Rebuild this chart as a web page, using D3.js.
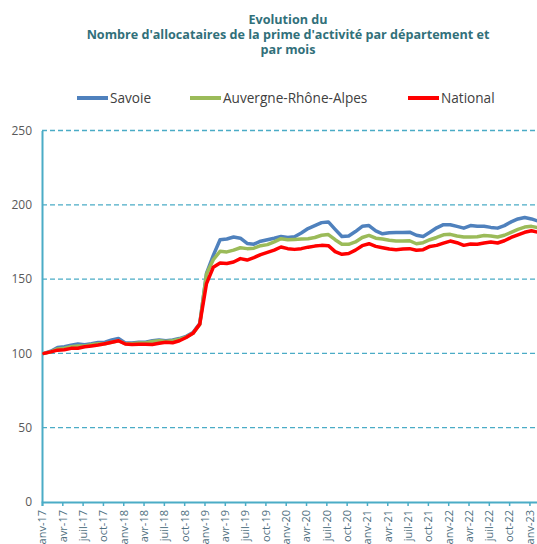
<!DOCTYPE html>
<html>
<head>
<meta charset="utf-8">
<script src="https://cdnjs.cloudflare.com/ajax/libs/d3/7.8.5/d3.min.js"></script>
<style>
  html, body { margin: 0; padding: 0; background: #fff; overflow: hidden; }
  svg { display: block; }
</style>
</head>
<body>
<svg id="chart" width="537" height="544"></svg>
<script>
// month labels, janv-17 .. févr-23 (one point per month)
var moisNoms = ['janv', 'févr', 'mars', 'avr', 'mai', 'juin', 'juil', 'août', 'sept', 'oct', 'nov', 'déc']
var annees = ['17', '18', '19', '20', '21', '22', '23']

var series = ['Savoie', 'Auvergne-Rhône-Alpes', 'National']
var couleurs = ['#4F81BD', '#9BBB59', '#FF0000']

var savoie = [
	100, 101.5, 104, 104.5, 105.5, 106.3, 105.8, 106.5, 107.4, 107.5, 109, 110,
	107, 107, 107.5, 107.5, 108.5, 109, 108.5, 109, 110, 111.5, 114, 120,
	153.8, 166, 176.5, 177, 178.3, 177.5, 174, 173.5, 175.5, 176.5, 177.5, 178.7,
	178, 178.5, 181, 184, 186, 188, 188.5, 183.5, 178.7, 179, 182, 185.5,
	186, 182.5, 180.5, 181.2, 181.4, 181.4, 181.6, 179.5, 178.7, 181.5, 184.5, 186.6,
	186.6, 185.5, 184.3, 186, 185.5, 185.5, 184.8, 184.3, 186, 188.5, 190.5, 191.5,
	190.5, 189
]
var ara = [
	100, 101, 103, 103.5, 104.5, 105, 105, 105.8, 106.5, 106.5, 107.5, 108.5,
	106.5, 106.5, 107, 107, 108, 108.5, 108, 108.5, 109.5, 111, 113.5, 119.5,
	153.5, 163, 168.7, 168.3, 169.5, 171.1, 170.5, 170.8, 172.5, 173.2, 175, 177.2,
	176.5, 176.7, 177, 177.2, 178, 179.5, 180, 176.5, 173.5, 173.4, 175, 178,
	179.4, 177.5, 177, 176.2, 175.6, 175.6, 175.8, 173.8, 174.5, 176.5, 178, 179.8,
	180.1, 179, 178.3, 178.3, 178.5, 179.4, 179, 178.3, 179.5, 181.5, 183.5, 185,
	185.5, 184.6
]
var national = [
	100, 101, 102.2, 102.5, 103.4, 103.5, 104.5, 105, 105.6, 106.5, 107.5, 108.5,
	106.3, 106, 106.2, 106.2, 106, 106.8, 107.5, 107.2, 108.5, 110.7, 113.5, 119.7,
	147, 158, 160.8, 160.5, 161.5, 163.8, 162.8, 164.5, 166.5, 168, 169.5, 171.6,
	170.5, 170, 170.5, 171.5, 172.2, 172.7, 172.5, 168.5, 166.7, 167.2, 169.5, 172.5,
	173.8, 172, 171.1, 170.2, 169.8, 170.3, 170.5, 169.4, 169.8, 172, 172.7, 174.2,
	175.6, 174.5, 172.7, 173.6, 173.4, 174.3, 175, 174.3, 175.8, 178, 179.8, 181.5,
	182.5, 181.5
]
var yTicks = [0, 50, 100, 150, 200, 250]

var titre = ['Evolution du', "Nombre d'allocataires de la prime d'activité par département et", 'par mois']

var valeurs = [savoie, ara, national]
var nMois = savoie.length

var mois = []
for (var i = 0; i < nMois; i++) {
	mois.push(moisNoms[i % 12] + '-' + annees[Math.floor(i / 12)])
}

var svg = d3.select('#chart')
var bleu = '#4BACC6'

var x = d3.scaleLinear().domain([0, 74]).range([42, 42 + 74 * 6.77])
var y = d3.scaleLinear().domain([0, 250]).range([502, 130.5])

// title
svg.append('g').selectAll('text')
	.data(titre)
	.enter().append('text')
		.attr('x', 288)
		.attr('y', function(d, i) { return 24 + i * 15 })
		.attr('text-anchor', 'middle')
		.attr('font-family', 'Open Sans, sans-serif')
		.attr('font-weight', 'bold')
		.attr('font-size', '12.6px')
		.attr('fill', '#31707A')
		.text(function(d) { return d })

// legend
var legX = [77, 190, 408]
var leg = svg.append('g').selectAll('g')
	.data(series)
	.enter().append('g')
		.attr('transform', function(d, i) { return 'translate(' + legX[i] + ',98)' })
leg.append('line')
	.attr('x1', 0).attr('x2', 31)
	.attr('stroke', function(d, i) { return couleurs[i] })
	.attr('stroke-width', 4)
leg.append('text')
	.attr('x', 33).attr('y', 5)
	.attr('font-family', 'Open Sans, sans-serif')
	.attr('font-size', '13.6px')
	.attr('fill', '#404040')
	.text(function(d) { return d })

// gridlines
svg.append('g').selectAll('line')
	.data(yTicks.slice(1))
	.enter().append('line')
		.attr('x1', 42).attr('x2', 537)
		.attr('y1', function(d) { return y(d) })
		.attr('y2', function(d) { return y(d) })
		.attr('stroke', bleu)
		.attr('stroke-width', 1.3)
		.attr('stroke-dasharray', '5,3')

// y axis
var yAxis = svg.append('g')
	.attr('transform', 'translate(42,0)')
	.call(d3.axisLeft(y).tickValues(yTicks).tickSize(0).tickPadding(10))
yAxis.select('.domain').attr('stroke', bleu).attr('stroke-width', 2)
yAxis.selectAll('text')
	.attr('font-family', 'Open Sans, sans-serif')
	.attr('font-size', '12px')
	.attr('fill', '#595959')

// x axis, tick every 3 months
var xTicks = d3.range(0, 73, 3)
var xAxis = svg.append('g')
	.attr('transform', 'translate(0,502)')
	.call(d3.axisBottom(x).tickValues(xTicks).tickSize(4)
		.tickFormat(function(d) { return mois[d] }))
xAxis.select('.domain').attr('stroke', bleu).attr('stroke-width', 2)
xAxis.selectAll('.tick line').attr('stroke', bleu).attr('stroke-width', 1.5)
xAxis.selectAll('text')
	.attr('font-family', 'Open Sans, sans-serif')
	.attr('font-size', '11px')
	.attr('fill', '#4F6F80')
	.attr('text-anchor', 'end')
	.attr('transform', 'rotate(-90)')
	.attr('x', -8).attr('y', 0).attr('dy', '0.35em')

// lines (points centred in their month)
var ligne = d3.line()
	.x(function(d, i) { return x(i + 0.3) })
	.y(function(d) { return y(d) })

svg.append('g').selectAll('path')
	.data(valeurs)
	.enter().append('path')
		.attr('d', ligne)
		.attr('fill', 'none')
		.attr('stroke', function(d, i) { return couleurs[i] })
		.attr('stroke-width', 3.5)
		.attr('stroke-linejoin', 'round')
		.attr('stroke-linecap', 'round')
</script>
</body>
</html>
